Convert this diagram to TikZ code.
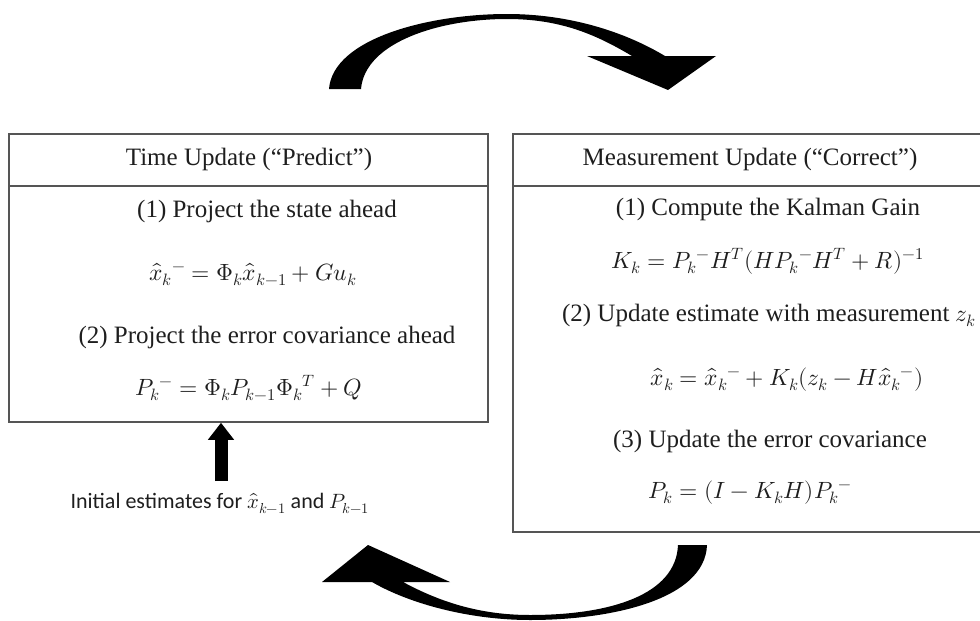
\documentclass[tikz,border=0pt]{standalone}
\usepackage{fontspec}
\usepackage{unicode-math}
\setmainfont{Liberation Serif}
\setmathfont{Latin Modern Math}[Scale=0.94]
\newfontfamily\sansfnt{Carlito}
\usetikzlibrary{arrows.meta}
\definecolor{boxgray}{HTML}{555555}
\definecolor{textgray}{HTML}{1E1E1E}
\begin{document}
\begin{tikzpicture}[x=1pt,y=-1pt,
  panel/.style={draw=boxgray,line width=1.5pt,rectangle,inner sep=0pt},
  txt/.style={anchor=base,text=textgray,inner sep=0pt,font=\fontsize{25}{30}\selectfont},
  sanstxt/.style={anchor=base,text=textgray,inner sep=0pt,font=\sansfnt\fontsize{22}{26}\selectfont},
  cyc/.style={fill=black,draw=none},
  uparrow/.style={line width=13pt,-{Triangle[length=17pt,width=25pt]}}]
\useasboundingbox (0,0) rectangle (980,621);
% panels
\node[panel,minimum width=479pt,minimum height=288pt] (L) at (248.5,278) {};
\node[panel,minimum width=474pt,minimum height=398pt] (R) at (750,333) {};
\draw[boxgray,line width=1.5pt] (L.west |- 0,186) -- (L.east |- 0,186);
\draw[boxgray,line width=1.5pt] (R.west |- 0,186) -- (R.east |- 0,186);
% left texts
\node[txt] (lh) at (249,165) {Time Update (“Predict”)};
\node[txt] (l1) at (267,217) {(1) Project the state ahead};
\node[txt] (le1) at (253,280) {$\hat{x}_k{}^{-} = \Phi_k \hat{x}_{k-1} + G u_k$};
\node[txt] (l2) at (267,343) {(2) Project the error covariance ahead};
\node[txt] (le2) at (249,395) {$P_k{}^{-} = \Phi_k P_{k-1} \Phi_k{}^{T} + Q$};
% right texts
\node[txt] (rh) at (750,165) {Measurement Update (“Correct”)};
\node[txt] (r1) at (768,215) {(1) Compute the Kalman Gain};
\node[txt] (re1) at (768,268) {$K_k = P_k{}^{-} H^{T} (H P_k{}^{-} H^{T} + R)^{-1}$};
\node[txt] (r2) at (769,321) {(2) Update estimate with measurement $z_k$};
\node[txt] (re2) at (787,385) {$\hat{x}_k = \hat{x}_k{}^{-} + K_k(z_k - H\hat{x}_k{}^{-})$};
\node[txt] (r3) at (770,447) {(3) Update the error covariance};
\node[txt] (re3) at (750,498) {$P_k = (I - K_k H) P_k{}^{-}$};
% initial estimates
\node[sanstxt] (init) at (220,508) {Initial estimates for $\hat{x}_{k-1}$ and $P_{k-1}$};
\coordinate (initarrow) at (221,481);
\draw[uparrow] (initarrow) -- (initarrow |- L.south);
% top cycle arrow
\fill[cyc] (329,89) .. controls (333,38) and (430,14) .. (507,14)
  .. controls (570,14) and (625,32) .. (665,56)
  -- (716,56) -- (668,90) -- (587,56) -- (632,56)
  .. controls (595,34) and (560,19) .. (507,19)
  .. controls (440,19) and (365,42) .. (361,89) -- cycle;
% bottom cycle arrow
\fill[cyc] (707,545) .. controls (705,600) and (610,620) .. (530,620)
  .. controls (470,620) and (410,604) .. (372,582)
  -- (322,582) -- (368,545) -- (450,582) -- (403,582)
  .. controls (440,602) and (480,615) .. (530,615)
  .. controls (610,615) and (676,595) .. (678,545) -- cycle;
\end{tikzpicture}
\end{document}
